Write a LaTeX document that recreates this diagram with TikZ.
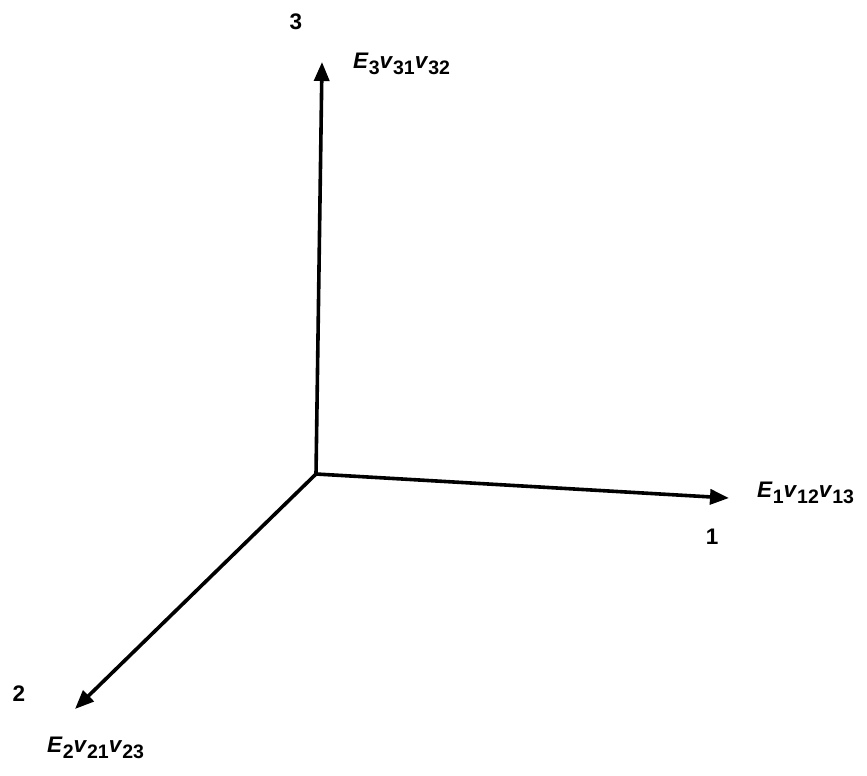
\documentclass[tikz,border=0pt]{standalone}
\usepackage{fontspec}
\setmainfont{Liberation Sans}
\usetikzlibrary{arrows.meta}
\newcommand{\lsub}[1]{\raisebox{-6pt}{\fontsize{19.5}{19.5}\selectfont\bfseries #1}}
\tikzset{
  axis/.style={line width=3.6pt,-{Triangle[length=19pt,width=15pt]}},
  lbl/.style={font=\fontsize{22.5}{22.5}\selectfont\bfseries,inner sep=0pt},
}
\begin{document}
\begin{tikzpicture}[x=1pt,y=-1pt]
\useasboundingbox (0,0) rectangle (867,776);
\coordinate (O) at (316,474);
\coordinate (t3) at (322,62);
\coordinate (t1) at (729,498);
\coordinate (t2) at (75,709);
\draw[axis] (O) -- (t3);
\draw[axis] (O) -- (t1);
\draw[axis] (O) -- (t2);
\node[lbl] (n3) at (296,22) {3};
\node[lbl] (n1) at (712,537) {1};
\node[lbl] (n2) at (19,694) {2};
\node[lbl,anchor=west] (L3) at (353,64) {\textit{E}\lsub{3}\textit{v}\lsub{31}\textit{v}\lsub{32}};
\node[lbl,anchor=west] (L1) at (757,493) {\textit{E}\lsub{1}\textit{v}\lsub{12}\textit{v}\lsub{13}};
\node[lbl,anchor=west] (L2) at (47,748) {\textit{E}\lsub{2}\textit{v}\lsub{21}\textit{v}\lsub{23}};
\end{tikzpicture}
\end{document}
